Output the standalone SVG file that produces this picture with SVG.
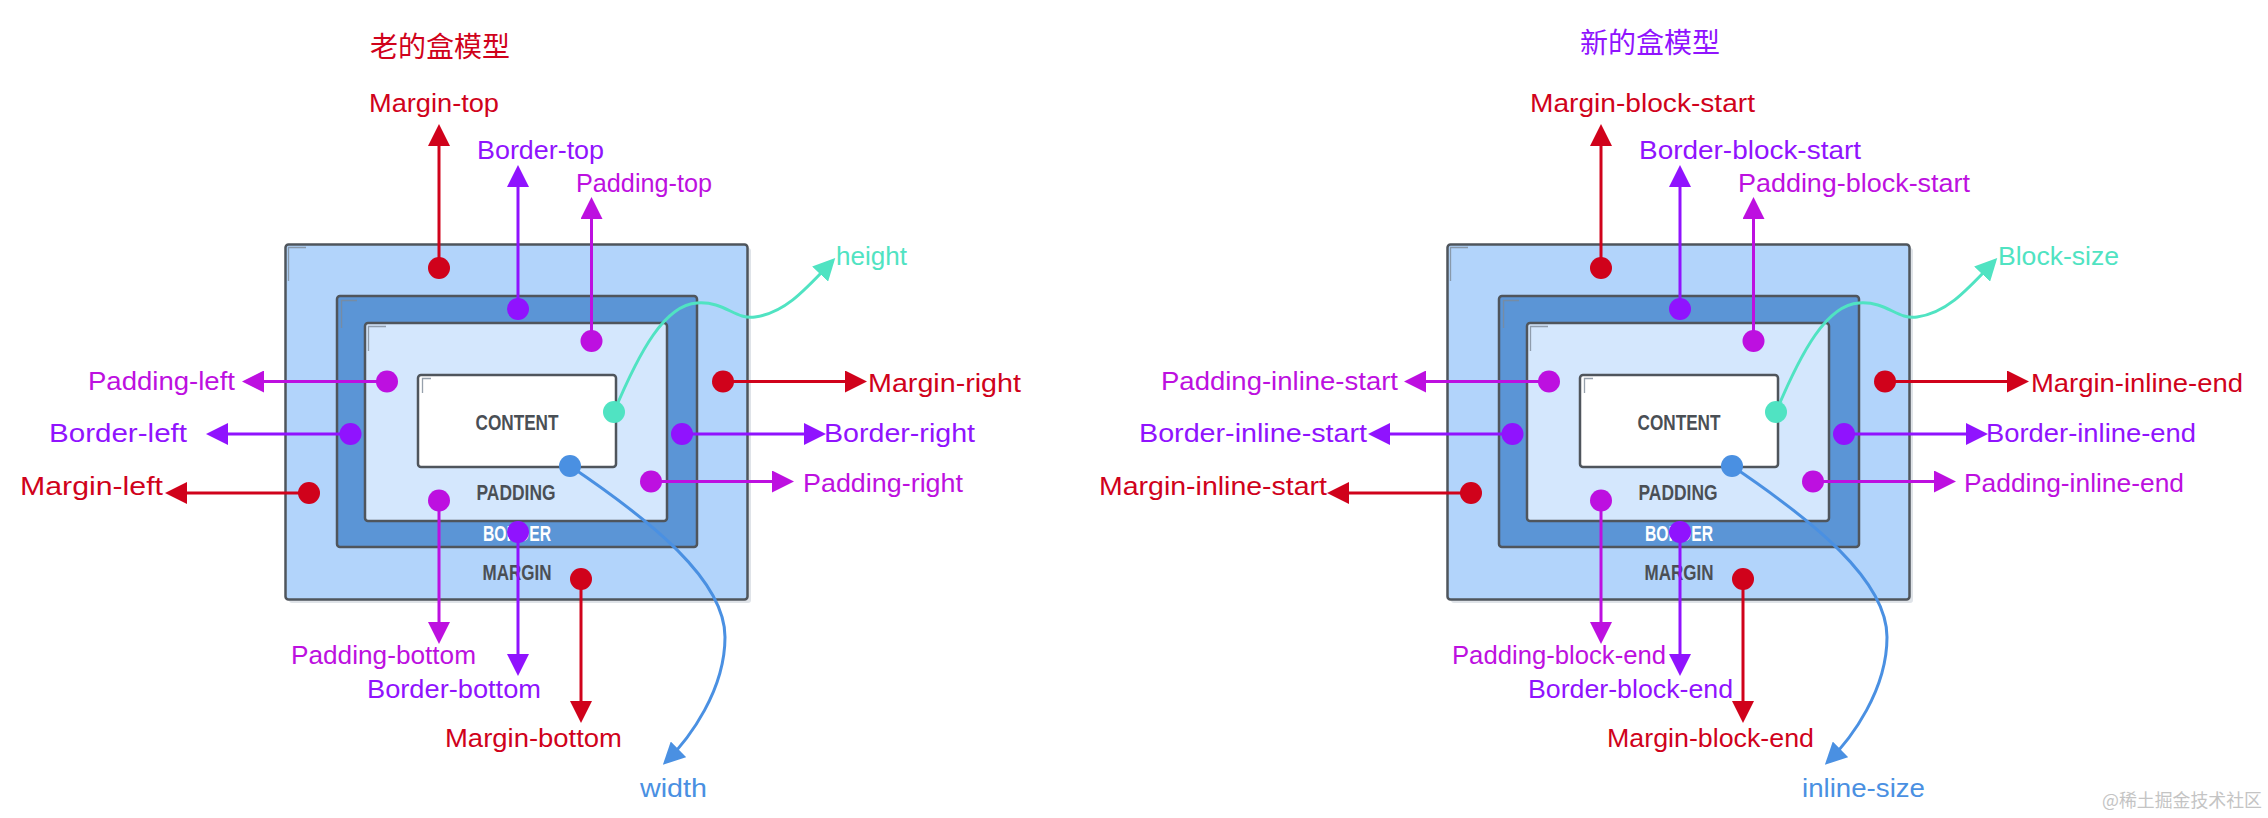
<svg xmlns="http://www.w3.org/2000/svg" width="2268" height="818" viewBox="0 0 2268 818">
<style>
.bg{fill:#ffffff}
.mbox{fill:#b2d4fb;stroke:#4f555c;stroke-width:2.5}
.bbox{fill:#5b95d6;stroke:#4f555c;stroke-width:2.5}
.pbox{fill:#d4e7fd;stroke:#4f555c;stroke-width:2.5}
.cbox{fill:#ffffff;stroke:#4f555c;stroke-width:2.5}
.shadow{fill:#dfe3e8}
.tick{fill:none;stroke:#7d8a97;stroke-width:1.3;opacity:.8}
.blabel{font-family:"Liberation Sans",Arial,sans-serif;font-weight:bold;font-size:22px;fill:#4a4f55}
.white{fill:#ffffff}
.hand{font-family:"Liberation Sans Narrow","Liberation Sans",Arial,sans-serif;font-size:26px}
.title{font-family:"Noto Sans CJK SC","Noto Sans CJK JP",sans-serif;font-size:28px}
.ln{fill:none;stroke-width:3}
.red{stroke:#d0021b}
.pur{stroke:#9013fe}
.mag{stroke:#bd10e0}
.tea{stroke:#50e3c2}
.blu{stroke:#4a90e2}
.fred{fill:#d0021b}
.fpur{fill:#9013fe}
.fmag{fill:#bd10e0}
.ftea{fill:#50e3c2}
.fblu{fill:#4a90e2}
</style>
<defs>
<marker id="ar-red" viewBox="0 0 22 22" refX="18" refY="11" markerWidth="22" markerHeight="22" markerUnits="userSpaceOnUse" orient="auto"><path d="M0,0 L22,11 L0,22 Z" fill="#d0021b"/></marker>
<marker id="ar-pur" viewBox="0 0 22 22" refX="18" refY="11" markerWidth="22" markerHeight="22" markerUnits="userSpaceOnUse" orient="auto"><path d="M0,0 L22,11 L0,22 Z" fill="#9013fe"/></marker>
<marker id="ar-mag" viewBox="0 0 22 22" refX="18" refY="11" markerWidth="22" markerHeight="22" markerUnits="userSpaceOnUse" orient="auto"><path d="M0,0 L22,11 L0,22 Z" fill="#bd10e0"/></marker>
<marker id="ar-tea" viewBox="0 0 22 22" refX="18" refY="11" markerWidth="22" markerHeight="22" markerUnits="userSpaceOnUse" orient="auto"><path d="M0,0 L22,11 L0,22 Z" fill="#50e3c2"/></marker>
<marker id="ar-blu" viewBox="0 0 22 22" refX="18" refY="11" markerWidth="22" markerHeight="22" markerUnits="userSpaceOnUse" orient="auto"><path d="M0,0 L22,11 L0,22 Z" fill="#4a90e2"/></marker>
</defs>
<rect class="bg" x="0" y="0" width="2268" height="818"/>

<!-- ============ OLD BOX MODEL ============ -->
<g id="old-title"><text class="title" x="440" y="57" text-anchor="middle" fill="#d0021b">老的盒模型</text></g>

<g id="old-margin-box">
<rect class="shadow" x="289" y="248" width="462" height="355" rx="3"/>
<rect class="mbox" x="285.5" y="244.5" width="462" height="355" rx="3"/>
<path class="tick" d="M306,247.5 H288.5 V281"/>
<text class="blabel" x="517" y="580" text-anchor="middle" textLength="69" lengthAdjust="spacingAndGlyphs">MARGIN</text>
</g>
<g id="old-border-box">
<rect class="bbox" x="337" y="296" width="360" height="251" rx="3"/>
<path class="tick" d="M357,300.5 H341.5 V328"/>
<text class="blabel white" x="517" y="541" text-anchor="middle" textLength="68" lengthAdjust="spacingAndGlyphs">BORDER</text>
</g>
<g id="old-padding-box">
<rect class="pbox" x="365" y="323" width="302" height="198" rx="3"/>
<path class="tick" d="M386,326.5 H368.5 V351"/>
<text class="blabel" x="516" y="500" text-anchor="middle" textLength="79" lengthAdjust="spacingAndGlyphs">PADDING</text>
</g>
<g id="old-content-box">
<rect class="cbox" x="418" y="375" width="198" height="92" rx="3"/>
<path class="tick" d="M431,378.5 H422.5 V393"/>
<text class="blabel" x="517" y="430" text-anchor="middle" textLength="83" lengthAdjust="spacingAndGlyphs">CONTENT</text>
</g>

<g id="old-connectors">
<path class="ln red" d="M439,268 V128" marker-end="url(#ar-red)"/>
<path class="ln pur" d="M518,309 V169" marker-end="url(#ar-pur)"/>
<path class="ln mag" d="M591.5,341 V201" marker-end="url(#ar-mag)"/>
<path class="ln mag" d="M387,381.5 H246" marker-end="url(#ar-mag)"/>
<path class="ln red" d="M723,381.5 H863" marker-end="url(#ar-red)"/>
<path class="ln pur" d="M350.5,434 H210" marker-end="url(#ar-pur)"/>
<path class="ln pur" d="M682,434 H822" marker-end="url(#ar-pur)"/>
<path class="ln red" d="M309,493 H169" marker-end="url(#ar-red)"/>
<path class="ln mag" d="M651,481.5 H790" marker-end="url(#ar-mag)"/>
<path class="ln mag" d="M439,500.5 V640" marker-end="url(#ar-mag)"/>
<path class="ln pur" d="M518,532 V672" marker-end="url(#ar-pur)"/>
<path class="ln red" d="M581,579 V719" marker-end="url(#ar-red)"/>
<path class="ln tea" d="M614,412 C640,350 665,305 697,303 C725,301 735,320 755,317 C785,313 805,290 832.5,261" marker-end="url(#ar-tea)"/>
<path class="ln blu" d="M570,466 C650,520 725,580 725,637 C725,690 690,738 665.7,762" marker-end="url(#ar-blu)"/>
<circle class="fred" cx="439" cy="268" r="11"/>
<circle class="fpur" cx="518" cy="309" r="11"/>
<circle class="fmag" cx="591.5" cy="341" r="11"/>
<circle class="fmag" cx="387" cy="381.5" r="11"/>
<circle class="fred" cx="723" cy="381.5" r="11"/>
<circle class="fpur" cx="350.5" cy="434" r="11"/>
<circle class="fpur" cx="682" cy="434" r="11"/>
<circle class="fred" cx="309" cy="493" r="11"/>
<circle class="fmag" cx="651" cy="481.5" r="11"/>
<circle class="fmag" cx="439" cy="500.5" r="11"/>
<circle class="fpur" cx="518" cy="532" r="11"/>
<circle class="fred" cx="581" cy="579" r="11"/>
<circle class="ftea" cx="614" cy="412" r="11"/>
<circle class="fblu" cx="570" cy="466" r="11"/>
</g>

<g id="old-labels" class="hand">
<text x="369" y="112" class="fred" textLength="130" lengthAdjust="spacingAndGlyphs">Margin-top</text>
<text x="477" y="159" class="fpur" textLength="127" lengthAdjust="spacingAndGlyphs">Border-top</text>
<text x="576" y="192" class="fmag" textLength="136" lengthAdjust="spacingAndGlyphs">Padding-top</text>
<text x="836" y="265" class="ftea" textLength="71" lengthAdjust="spacingAndGlyphs">height</text>
<text x="88" y="390" class="fmag" textLength="147" lengthAdjust="spacingAndGlyphs">Padding-left</text>
<text x="868" y="392" class="fred" textLength="153" lengthAdjust="spacingAndGlyphs">Margin-right</text>
<text x="49" y="442" class="fpur" textLength="138" lengthAdjust="spacingAndGlyphs">Border-left</text>
<text x="824" y="442" class="fpur" textLength="151" lengthAdjust="spacingAndGlyphs">Border-right</text>
<text x="20" y="495" class="fred" textLength="143" lengthAdjust="spacingAndGlyphs">Margin-left</text>
<text x="803" y="492" class="fmag" textLength="160" lengthAdjust="spacingAndGlyphs">Padding-right</text>
<text x="291" y="664" class="fmag" textLength="185" lengthAdjust="spacingAndGlyphs">Padding-bottom</text>
<text x="367" y="698" class="fpur" textLength="174" lengthAdjust="spacingAndGlyphs">Border-bottom</text>
<text x="445" y="747" class="fred" textLength="177" lengthAdjust="spacingAndGlyphs">Margin-bottom</text>
<text x="640" y="797" class="fblu" textLength="67" lengthAdjust="spacingAndGlyphs">width</text>
</g>

<!-- ============ NEW BOX MODEL ============ -->
<g id="new-title"><text class="title" x="1650" y="53" text-anchor="middle" fill="#9013fe">新的盒模型</text></g>

<g transform="translate(1162,0)">
<g id="new-margin-box">
<rect class="shadow" x="289" y="248" width="462" height="355" rx="3"/>
<rect class="mbox" x="285.5" y="244.5" width="462" height="355" rx="3"/>
<path class="tick" d="M306,247.5 H288.5 V281"/>
<text class="blabel" x="517" y="580" text-anchor="middle" textLength="69" lengthAdjust="spacingAndGlyphs">MARGIN</text>
</g>
<g id="new-border-box">
<rect class="bbox" x="337" y="296" width="360" height="251" rx="3"/>
<path class="tick" d="M357,300.5 H341.5 V328"/>
<text class="blabel white" x="517" y="541" text-anchor="middle" textLength="68" lengthAdjust="spacingAndGlyphs">BORDER</text>
</g>
<g id="new-padding-box">
<rect class="pbox" x="365" y="323" width="302" height="198" rx="3"/>
<path class="tick" d="M386,326.5 H368.5 V351"/>
<text class="blabel" x="516" y="500" text-anchor="middle" textLength="79" lengthAdjust="spacingAndGlyphs">PADDING</text>
</g>
<g id="new-content-box">
<rect class="cbox" x="418" y="375" width="198" height="92" rx="3"/>
<path class="tick" d="M431,378.5 H422.5 V393"/>
<text class="blabel" x="517" y="430" text-anchor="middle" textLength="83" lengthAdjust="spacingAndGlyphs">CONTENT</text>
</g>

<g id="new-connectors">
<path class="ln red" d="M439,268 V128" marker-end="url(#ar-red)"/>
<path class="ln pur" d="M518,309 V169" marker-end="url(#ar-pur)"/>
<path class="ln mag" d="M591.5,341 V201" marker-end="url(#ar-mag)"/>
<path class="ln mag" d="M387,381.5 H246" marker-end="url(#ar-mag)"/>
<path class="ln red" d="M723,381.5 H863" marker-end="url(#ar-red)"/>
<path class="ln pur" d="M350.5,434 H210" marker-end="url(#ar-pur)"/>
<path class="ln pur" d="M682,434 H822" marker-end="url(#ar-pur)"/>
<path class="ln red" d="M309,493 H169" marker-end="url(#ar-red)"/>
<path class="ln mag" d="M651,481.5 H790" marker-end="url(#ar-mag)"/>
<path class="ln mag" d="M439,500.5 V640" marker-end="url(#ar-mag)"/>
<path class="ln pur" d="M518,532 V672" marker-end="url(#ar-pur)"/>
<path class="ln red" d="M581,579 V719" marker-end="url(#ar-red)"/>
<path class="ln tea" d="M614,412 C640,350 665,305 697,303 C725,301 735,320 755,317 C785,313 805,290 832.5,261" marker-end="url(#ar-tea)"/>
<path class="ln blu" d="M570,466 C650,520 725,580 725,637 C725,690 690,738 665.7,762" marker-end="url(#ar-blu)"/>
<circle class="fred" cx="439" cy="268" r="11"/>
<circle class="fpur" cx="518" cy="309" r="11"/>
<circle class="fmag" cx="591.5" cy="341" r="11"/>
<circle class="fmag" cx="387" cy="381.5" r="11"/>
<circle class="fred" cx="723" cy="381.5" r="11"/>
<circle class="fpur" cx="350.5" cy="434" r="11"/>
<circle class="fpur" cx="682" cy="434" r="11"/>
<circle class="fred" cx="309" cy="493" r="11"/>
<circle class="fmag" cx="651" cy="481.5" r="11"/>
<circle class="fmag" cx="439" cy="500.5" r="11"/>
<circle class="fpur" cx="518" cy="532" r="11"/>
<circle class="fred" cx="581" cy="579" r="11"/>
<circle class="ftea" cx="614" cy="412" r="11"/>
<circle class="fblu" cx="570" cy="466" r="11"/>
</g>
</g>

<g id="new-labels" class="hand">
<text x="1530" y="112" class="fred" textLength="225" lengthAdjust="spacingAndGlyphs">Margin-block-start</text>
<text x="1639" y="159" class="fpur" textLength="222" lengthAdjust="spacingAndGlyphs">Border-block-start</text>
<text x="1738" y="192" class="fmag" textLength="232" lengthAdjust="spacingAndGlyphs">Padding-block-start</text>
<text x="1998" y="265" class="ftea" textLength="121" lengthAdjust="spacingAndGlyphs">Block-size</text>
<text x="1161" y="390" class="fmag" textLength="237" lengthAdjust="spacingAndGlyphs">Padding-inline-start</text>
<text x="2031" y="392" class="fred" textLength="212" lengthAdjust="spacingAndGlyphs">Margin-inline-end</text>
<text x="1139" y="442" class="fpur" textLength="228" lengthAdjust="spacingAndGlyphs">Border-inline-start</text>
<text x="1986" y="442" class="fpur" textLength="210" lengthAdjust="spacingAndGlyphs">Border-inline-end</text>
<text x="1099" y="495" class="fred" textLength="228" lengthAdjust="spacingAndGlyphs">Margin-inline-start</text>
<text x="1964" y="492" class="fmag" textLength="220" lengthAdjust="spacingAndGlyphs">Padding-inline-end</text>
<text x="1452" y="664" class="fmag" textLength="214" lengthAdjust="spacingAndGlyphs">Padding-block-end</text>
<text x="1528" y="698" class="fpur" textLength="205" lengthAdjust="spacingAndGlyphs">Border-block-end</text>
<text x="1607" y="747" class="fred" textLength="207" lengthAdjust="spacingAndGlyphs">Margin-block-end</text>
<text x="1802" y="797" class="fblu" textLength="123" lengthAdjust="spacingAndGlyphs">inline-size</text>
</g>

<g id="watermark"><text x="2102" y="807" font-family="Noto Sans CJK SC, Noto Sans CJK JP, sans-serif" font-size="18" fill="#c4c4c4" textLength="160" lengthAdjust="spacingAndGlyphs">@稀土掘金技术社区</text></g>
</svg>
